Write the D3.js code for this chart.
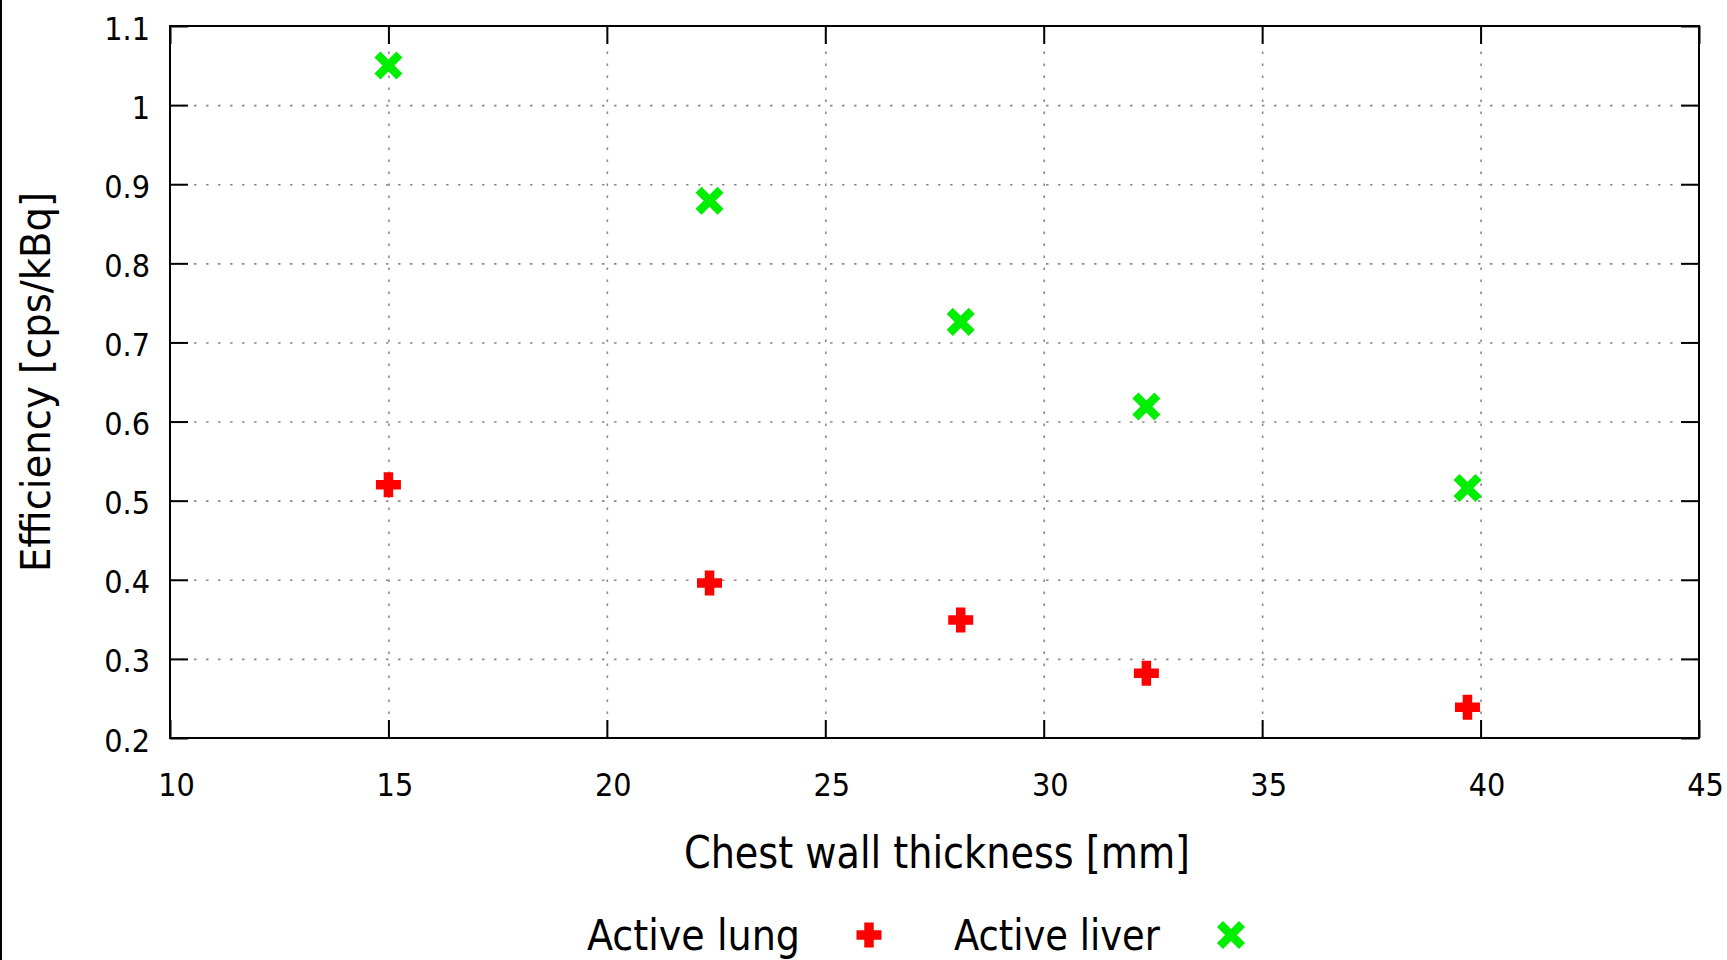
<!DOCTYPE html>
<html>
<head>
<meta charset="utf-8">
<script src="https://cdn.jsdelivr.net/npm/d3@7"></script>
<style>
  body { margin: 0; background: #fff; }
  svg text { font-family: "DejaVu Sans Condensed", "DejaVu Sans", sans-serif; font-stretch: condensed; fill: #000; }
</style>
</head>
<body>
<script>
// chest wall thickness vs counting efficiency
const thickness = [15, 22.35, 28.1, 32.35, 39.7]
const lungEff = [0.52, 0.396, 0.349, 0.282, 0.239]
const liverEff = [1.05, 0.879, 0.726, 0.619, 0.516]
const xTicks = [10, 15, 20, 25, 30, 35, 40, 45]
const yTicks = [0.2, 0.3, 0.4, 0.5, 0.6, 0.7, 0.8, 0.9, 1, 1.1]
const seriesNames = ['Active lung', 'Active liver']

const W = 1727
const H = 960
const pLeft = 170, pRight = 1699, pTop = 26, pBottom = 738

const svg = d3.select('body').append('svg')
  .attr('width', W)
  .attr('height', H)

// left edge border of the picture
svg.append('line')
  .attr('x1', 1).attr('x2', 1).attr('y1', 0).attr('y2', H)
  .attr('stroke', '#000').attr('stroke-width', 2)

const x = d3.scaleLinear().domain([10, 45]).range([pLeft, pRight])
const y = d3.scaleLinear().domain([0.2, 1.1]).range([pBottom, pTop])

// grid
const grid = svg.append('g')
grid.append('g')
  .attr('transform', `translate(0,${pBottom})`)
  .call(d3.axisBottom(x).tickValues(xTicks.slice(1, -1)).tickSize(-(pBottom - pTop)).tickFormat(''))
grid.append('g')
  .attr('transform', `translate(${pLeft},0)`)
  .call(d3.axisLeft(y).tickValues(yTicks.slice(1, -1)).tickSize(-(pRight - pLeft)).tickFormat(''))
grid.selectAll('.domain').remove()
grid.selectAll('line')
  .attr('stroke', '#8a8a8a')
  .attr('stroke-width', 1.6)
  .attr('stroke-dasharray', '2.5,9.5')

// ticks on all four sides, pointing inward
const tickLen = 18
const axB = svg.append('g').attr('transform', `translate(0,${pBottom})`)
  .call(d3.axisBottom(x).tickValues(xTicks).tickSize(-tickLen).tickFormat(d3.format('d')))
axB.selectAll('text').attr('y', 58).attr('x', 6).attr('dy', null)
const axT = svg.append('g').attr('transform', `translate(0,${pTop})`)
  .call(d3.axisTop(x).tickValues(xTicks).tickSize(-tickLen).tickFormat(''))
const axL = svg.append('g').attr('transform', `translate(${pLeft},0)`)
  .call(d3.axisLeft(y).tickValues(yTicks).tickSize(-tickLen).tickFormat(d3.format('~g')))
axL.selectAll('text').attr('x', -20).attr('y', 13).attr('dy', null)
const axR = svg.append('g').attr('transform', `translate(${pRight},0)`)
  .call(d3.axisRight(y).tickValues(yTicks).tickSize(-tickLen).tickFormat(''))

for (const ax of [axB, axT, axL, axR]) {
  ax.select('.domain').remove()
  ax.selectAll('line').attr('stroke', '#000').attr('stroke-width', 2)
  ax.selectAll('text').style('font-size', '32px').attr('fill', '#000')
}

// frame
svg.append('rect')
  .attr('x', pLeft).attr('y', pTop)
  .attr('width', pRight - pLeft).attr('height', pBottom - pTop)
  .attr('fill', 'none').attr('stroke', '#000').attr('stroke-width', 2)

// markers
const plus = 'M-12.5,0H12.5M0,-12.5V12.5'
const cross = 'M-11,-11L11,11M-11,11L11,-11'

function marker (g, shape, color) {
  g.append('path')
    .attr('d', shape)
    .attr('stroke', color)
    .attr('stroke-width', shape === plus ? 9.5 : 8.5)
    .attr('fill', 'none')
}

const lungPts = svg.selectAll('.lung')
  .data(thickness.map((t, i) => [t, lungEff[i]]))
  .enter().append('g')
  .attr('class', 'lung')
  .attr('transform', (d) => `translate(${x(d[0])},${y(d[1])})`)
lungPts.each(function () { marker(d3.select(this), plus, '#ff0000') })

const liverPts = svg.selectAll('.liver')
  .data(thickness.map((t, i) => [t, liverEff[i]]))
  .enter().append('g')
  .attr('class', 'liver')
  .attr('transform', (d) => `translate(${x(d[0])},${y(d[1])})`)
liverPts.each(function () { marker(d3.select(this), cross, '#00ee00') })

// axis titles
svg.append('text')
  .attr('x', 684).attr('y', 868)
  .attr('textLength', 506).attr('lengthAdjust', 'spacingAndGlyphs')
  .style('font-size', '44px')
  .text('Chest wall thickness [mm]')

svg.append('text')
  .attr('transform', 'translate(50,382) rotate(-90)')
  .attr('text-anchor', 'middle')
  .attr('textLength', 380).attr('lengthAdjust', 'spacingAndGlyphs')
  .style('font-size', '41px')
  .text('Efficiency [cps/kBq]')

// legend
const legend = [
  { name: seriesNames[0], tx: 587, tw: 213, mx: 869, shape: plus, color: '#ff0000' },
  { name: seriesNames[1], tx: 954, tw: 206, mx: 1231, shape: cross, color: '#00ee00' }
]
legend.forEach((l) => {
  svg.append('text')
    .attr('x', l.tx).attr('y', 950)
    .attr('textLength', l.tw).attr('lengthAdjust', 'spacingAndGlyphs')
    .style('font-size', '43px')
    .text(l.name)
  marker(svg.append('g').attr('transform', `translate(${l.mx},935)`), l.shape, l.color)
})
</script>
</body>
</html>
